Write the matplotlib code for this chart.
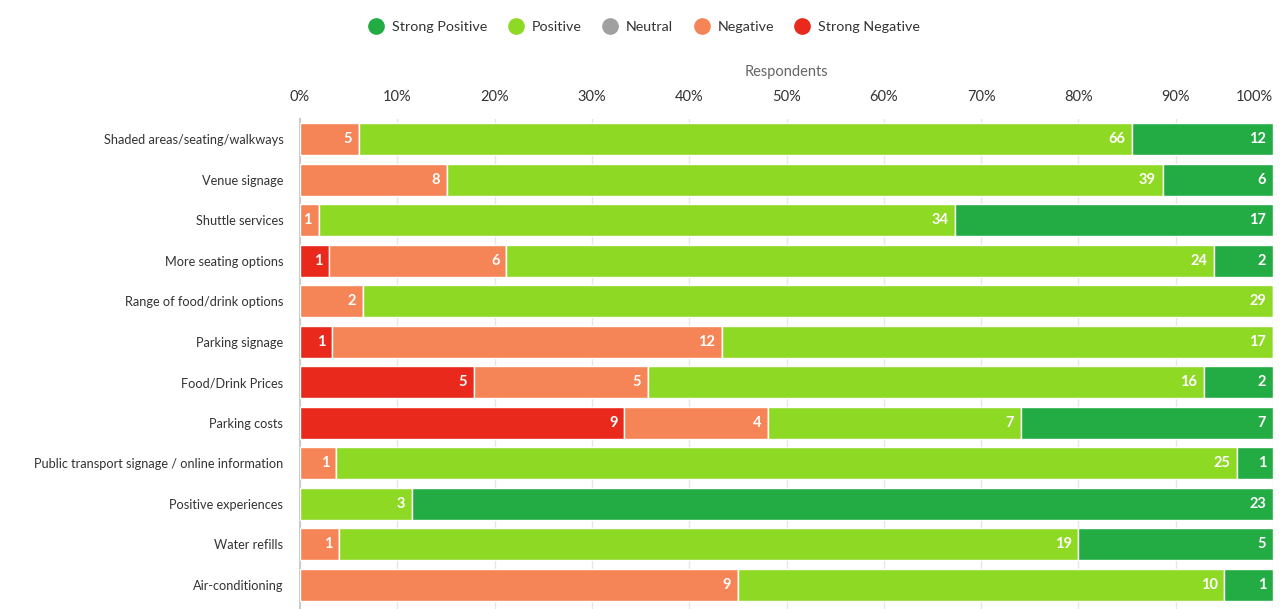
import matplotlib.pyplot as plt
from matplotlib.lines import Line2D

plt.rcParams['font.family'] = ['Lato', 'DejaVu Sans']

categories = ['Shaded areas/seating/walkways', 'Venue signage', 'Shuttle services',
              'More seating options', 'Range of food/drink options', 'Parking signage',
              'Food/Drink Prices', 'Parking costs', 'Public transport signage / online information',
              'Positive experiences', 'Water refills', 'Air-conditioning']

strong_negative = [0, 0, 0, 1, 0, 1, 5, 9, 0, 0, 0, 0]
negative = [5, 8, 1, 6, 2, 12, 5, 4, 1, 0, 1, 9]
neutral = [0, 0, 0, 0, 0, 0, 0, 0, 0, 0, 0, 0]
positive = [66, 39, 34, 24, 29, 17, 16, 7, 25, 3, 19, 10]
strong_positive = [12, 6, 17, 2, 0, 0, 2, 7, 1, 23, 5, 1]

series = [('Strong Negative', strong_negative, '#e8291c'),
          ('Negative', negative, '#f58457'),
          ('Neutral', neutral, '#a0a0a0'),
          ('Positive', positive, '#8ed923'),
          ('Strong Positive', strong_positive, '#23ab44')]

fig = plt.figure(figsize=(12.87, 6.09), dpi=100)
ax = fig.add_axes([300 / 1287, 0, (1273 - 300) / 1287, (609 - 119) / 609])

totals = [sum(s[1][i] for s in series) for i in range(len(categories))]
ypos = list(range(len(categories)))
left = [0.0] * len(categories)
for name, vals, color in series:
    widths = [v / t * 100 for v, t in zip(vals, totals)]
    ax.barh(ypos, widths, left=left, height=0.79, color=color,
            edgecolor='white', linewidth=1, zorder=3)
    for i, (v, w) in enumerate(zip(vals, widths)):
        if v > 0:
            ax.text(left[i] + w - 0.7, i, str(v), ha='right', va='center',
                    color='white', fontsize=10.5, fontweight='bold', zorder=4)
    left = [l + w for l, w in zip(left, widths)]

ax.set_xlim(0, 100)
ax.set_ylim(11.593, -0.494)
ax.set_yticks(ypos)
ax.set_yticklabels(categories, fontsize=9.2, color='#333333')
ax.set_xticks(range(0, 101, 10))
ax.set_xticklabels([f'{v}%' for v in range(0, 101, 10)], fontsize=10.5, color='#333333')
ax.xaxis.tick_top()
ax.xaxis.set_label_position('top')
ax.xaxis.get_major_ticks()[-1].label2.set_horizontalalignment('right')
ax.xaxis.get_major_ticks()[-1].label2.set_x(100)
ax.set_xlabel('Respondents', fontsize=10.5, color='#666666', labelpad=10)
ax.tick_params(axis='both', length=0)
ax.tick_params(axis='x', pad=11)
ax.tick_params(axis='y', pad=12)
ax.grid(axis='x', color='#e6e6e6', linewidth=1, zorder=0)
for side in ['top', 'right', 'bottom']:
    ax.spines[side].set_visible(False)
ax.spines['left'].set_color('#cccccc')
ax.spines['left'].set_linewidth(1.5)

handles = [Line2D([0], [0], marker='o', linestyle='', markersize=11,
                  markerfacecolor=c, markeredgecolor=c, label=n)
           for n, _, c in reversed(series)]
fig.legend(handles=handles, loc='center', bbox_to_anchor=(641 / 1287, 1 - 27 / 609),
           ncol=5, frameon=False, fontsize=10.3, handletextpad=0.1, columnspacing=1.0,
           labelcolor='#333333')

fig.savefig('out.png', dpi=100)
